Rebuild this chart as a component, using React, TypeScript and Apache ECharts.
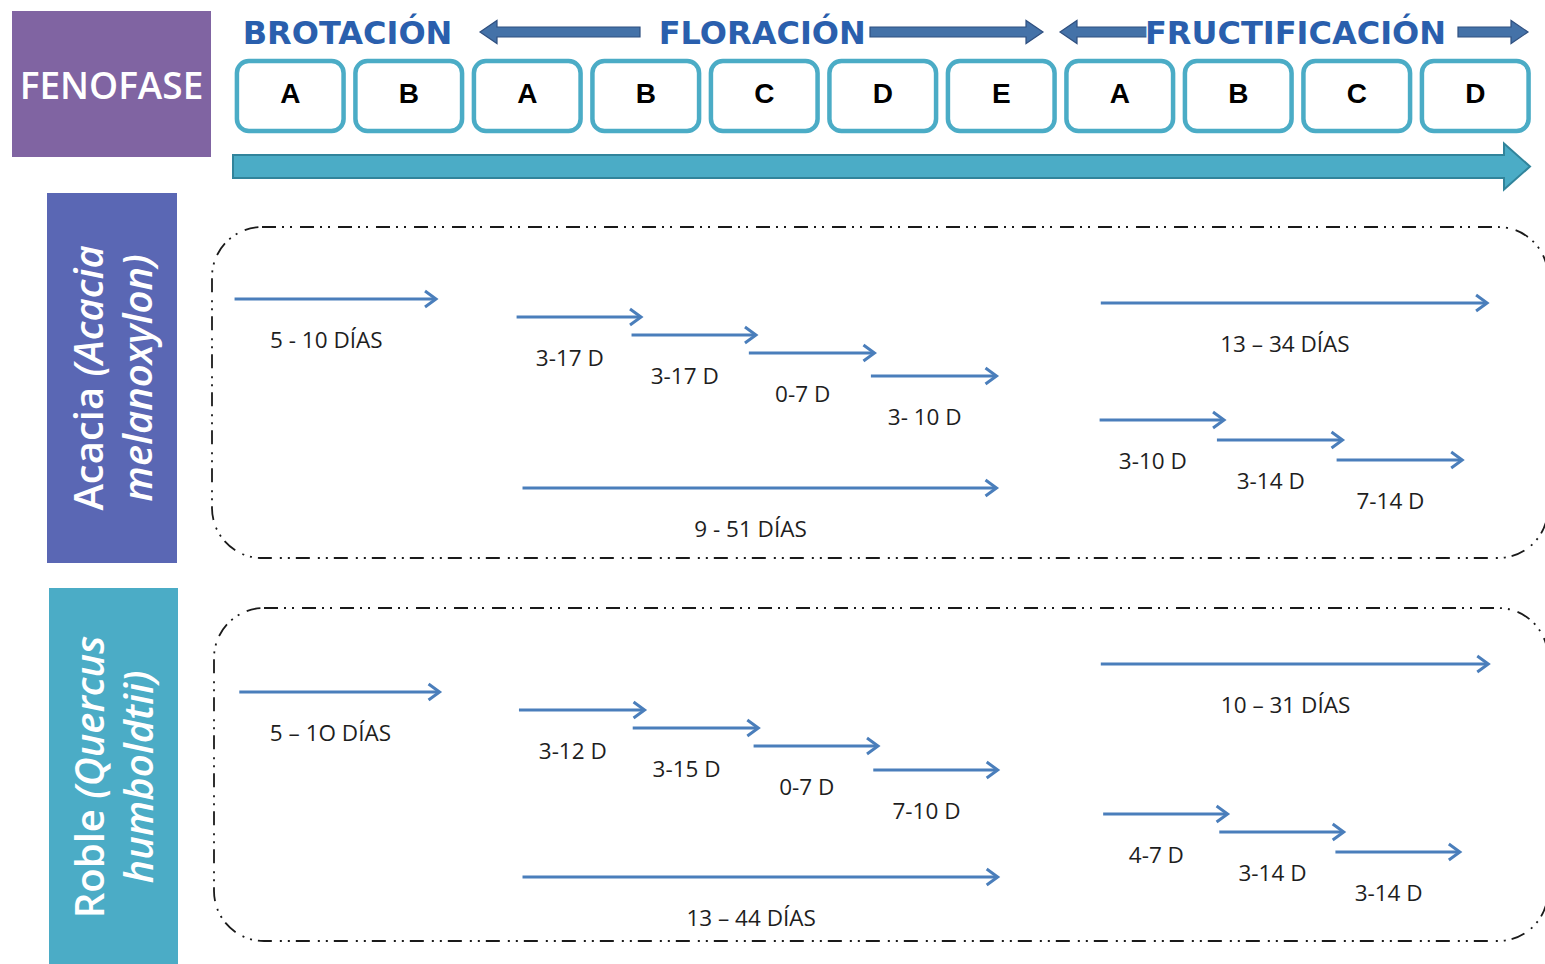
import React, { useEffect, useRef } from "react";
import * as echarts from "echarts";

// ---- data ----
const PHASE_LETTERS = ["A", "B", "A", "B", "C", "D", "E", "A", "B", "C", "D"];
const PHASE_GROUPS = ["BROTACIÓN", "FLORACIÓN", "FRUCTIFICACIÓN"];
const GROUP_START = [0, 2, 7];
const GROUP_END = [2, 7, 11];

const ACACIA_START = [0.03, 2.41, 3.38, 4.37, 5.4, 2.46, 7.34, 7.33, 8.32, 9.33];
const ACACIA_END = [1.73, 3.46, 4.43, 5.43, 6.46, 6.46, 10.6, 8.38, 9.38, 10.39];
const ACACIA_LEVEL = [299, 317, 335, 353, 376, 488, 303, 420, 440, 460];
const ACACIA_LABELS = ["5 - 10 DÍAS", "3-17 D", "3-17 D", "0-7 D", "3- 10 D", "9 - 51 DÍAS", "13 – 34 DÍAS", "3-10 D", "3-14 D", "7-14 D"];

const ROBLE_START = [0.07, 2.43, 3.39, 4.41, 5.42, 2.46, 7.34, 7.36, 8.34, 9.32];
const ROBLE_END = [1.76, 3.49, 4.45, 5.46, 6.47, 6.47, 10.61, 8.41, 9.39, 10.37];
const ROBLE_LEVEL = [692, 710, 728, 746, 770, 877, 664, 814, 832, 852];
const ROBLE_LABELS = ["5 – 1O DÍAS", "3-12 D", "3-15 D", "0-7 D", "7-10 D", "13 – 44 DÍAS", "10 – 31 DÍAS", "4-7 D", "3-14 D", "3-14 D"];

const SPECIES_MAIN = ["Acacia ", "Roble "];
const SPECIES_LATIN1 = ["(Acacia", "(Quercus"];
const SPECIES_LATIN2 = ["melanoxylon)", "humboldtii)"];

// ---- styles ----
const ARROW_BLUE = "#4A7EBB";
const TEAL = "#4BACC6";
const TEAL_DARK = "#31849B";
const LABEL_FONT = "'Open Sans', sans-serif";

function blockArrow(tail: number, tip: number, y: number, s: number, h: number, hl: number) {
  const d = tip > tail ? 1 : -1;
  const hb = tip - d * hl;
  return [
    [tail, y - s],
    [hb, y - s],
    [hb, y - h],
    [tip, y],
    [hb, y + h],
    [hb, y + s],
    [tail, y + s],
  ];
}

function arrowSeries(starts: number[], ends: number[], levels: number[], labels: string[]) {
  return {
    type: "custom",
    coordinateSystem: "cartesian2d",
    silent: true,
    z: 5,
    data: starts.map((s, i) => [s, levels[i], ends[i]]),
    renderItem: (params: any, api: any) => {
      const i = params.dataIndex;
      const a = api.coord([api.value(0), api.value(1)]);
      const b = api.coord([api.value(2), api.value(1)]);
      const y = a[1];
      return {
        type: "group",
        children: [
          {
            type: "line",
            shape: { x1: a[0], y1: y, x2: b[0] - 1, y2: y },
            style: { stroke: ARROW_BLUE, lineWidth: 3 },
          },
          {
            type: "polyline",
            shape: { points: [[b[0] - 11, y - 8], [b[0], y], [b[0] - 11, y + 8]] },
            style: { stroke: ARROW_BLUE, lineWidth: 3, fill: "none", lineJoin: "miter" },
          },
          {
            type: "text",
            x: (a[0] + b[0]) / 2 - 9,
            y: y + 40,
            style: {
              text: labels[i],
              fill: "#1e1e1e",
              fontSize: 22.5,
              fontFamily: LABEL_FONT,
              align: "center",
              verticalAlign: "middle",
            },
          },
        ],
      };
    },
  };
}

function sideLabel(idx: number, x: number, y: number) {
  return {
    type: "text",
    x,
    y,
    rotation: Math.PI / 2,
    style: {
      text: `{n|${SPECIES_MAIN[idx]}}{i|${SPECIES_LATIN1[idx]}}\n{i|${SPECIES_LATIN2[idx]}}`,
      align: "center",
      verticalAlign: "middle",
      fill: "#fff",
      rich: {
        n: { fontSize: 40, fontFamily: LABEL_FONT, fontWeight: 600, fill: "#fff", lineHeight: 49 },
        i: { fontSize: 40, fontFamily: LABEL_FONT, fontWeight: 600, fontStyle: "italic", fill: "#fff", lineHeight: 49 },
      },
    },
  };
}

const dash = [14, 6, 2, 6, 2, 8];

export default function App() {
  const ref = useRef<HTMLDivElement>(null);
  useEffect(() => {
    const chart = echarts.init(ref.current!, null, { renderer: "svg" });
    const option: any = {
      animation: false,
      backgroundColor: "#ffffff",
      grid: { left: 231, right: 10.5, top: 0, bottom: 0 },
      xAxis: { type: "value", min: 0, max: 11, show: false, axisLabel: { show: false } },
      yAxis: { type: "value", min: 0, max: 964, inverse: true, show: false, axisLabel: { show: false } },
      graphic: {
        elements: [
          // FENOFASE box
          { type: "rect", shape: { x: 12, y: 11, width: 199, height: 146 }, style: { fill: "#8064A2" }, z: 1 },
          {
            type: "text", x: 111.5, y: 84,
            style: { text: "FENOFASE", fill: "#fff", fontSize: 37, fontWeight: 600, fontFamily: LABEL_FONT, align: "center", verticalAlign: "middle" },
            z: 2,
          },
          // species boxes
          { type: "rect", shape: { x: 47, y: 193, width: 130, height: 370 }, style: { fill: "#5A67B4" }, z: 1 },
          { ...sideLabel(0, 112, 378), z: 2 },
          { type: "rect", shape: { x: 49, y: 588, width: 129, height: 380 }, style: { fill: TEAL }, z: 1 },
          { ...sideLabel(1, 113, 777), z: 2 },
          // dashed frames
          {
            type: "rect", shape: { x: 212, y: 227, width: 1336, height: 331, r: 50 },
            style: { fill: "none", stroke: "#1a1a1a", lineWidth: 1.8, lineDash: dash }, z: 1,
          },
          {
            type: "rect", shape: { x: 214, y: 608, width: 1334, height: 333, r: 50 },
            style: { fill: "none", stroke: "#1a1a1a", lineWidth: 1.8, lineDash: dash }, z: 1,
          },
          // big teal arrow
          {
            type: "polygon", shape: { points: blockArrow(233, 1530, 166.5, 11.5, 23, 26) },
            style: { fill: TEAL, stroke: TEAL_DARK, lineWidth: 2 }, z: 1,
          },
          // header arrows
          { type: "polygon", shape: { points: blockArrow(640, 480, 32, 5, 11.5, 17) }, style: { fill: "#4472A8", stroke: "#2F5080", lineWidth: 1.2 }, z: 1 },
          { type: "polygon", shape: { points: blockArrow(870, 1043, 32, 5, 11.5, 17) }, style: { fill: "#4472A8", stroke: "#2F5080", lineWidth: 1.2 }, z: 1 },
          { type: "polygon", shape: { points: blockArrow(1150, 1060, 32, 5, 11.5, 17) }, style: { fill: "#4472A8", stroke: "#2F5080", lineWidth: 1.2 }, z: 1 },
          { type: "polygon", shape: { points: blockArrow(1458, 1528, 32, 5, 11.5, 17) }, style: { fill: "#4472A8", stroke: "#2F5080", lineWidth: 1.2 }, z: 1 },
        ],
      },
      series: [
        // phase boxes
        {
          type: "custom",
          coordinateSystem: "cartesian2d",
          silent: true,
          z: 3,
          data: PHASE_LETTERS.map((_, i) => [i, 60]),
          renderItem: (params: any, api: any) => {
            const i = params.dataIndex;
            const a = api.coord([api.value(0) + 0.05, 61]);
            const b = api.coord([api.value(0) + 0.95, 131]);
            return {
              type: "group",
              children: [
                {
                  type: "rect",
                  shape: { x: a[0], y: a[1], width: b[0] - a[0], height: b[1] - a[1], r: 12 },
                  style: { fill: "#fff", stroke: TEAL, lineWidth: 4.5 },
                },
                {
                  type: "text",
                  x: (a[0] + b[0]) / 2,
                  y: 93,
                  style: {
                    text: PHASE_LETTERS[i], fill: "#000", fontSize: 28, fontWeight: "bold",
                    fontFamily: "'Liberation Sans', Arial, sans-serif", align: "center", verticalAlign: "middle",
                  },
                },
              ],
            };
          },
        },
        // phase group titles
        {
          type: "custom",
          coordinateSystem: "cartesian2d",
          silent: true,
          z: 4,
          data: PHASE_GROUPS.map((_, i) => [(GROUP_START[i] + GROUP_END[i]) / 2, 33]),
          renderItem: (params: any, api: any) => {
            const i = params.dataIndex;
            const p = api.coord([api.value(0), api.value(1)]);
            return {
              type: "text",
              x: p[0] - 2,
              y: p[1],
              style: {
                text: PHASE_GROUPS[i], fill: "#2A5FAD", fontSize: 32, fontWeight: "bold",
                fontFamily: "'DejaVu Sans', sans-serif", align: "center", verticalAlign: "middle",
                stroke: "#ffffff", lineWidth: 3,
              },
            };
          },
        },
        arrowSeries(ACACIA_START, ACACIA_END, ACACIA_LEVEL, ACACIA_LABELS),
        arrowSeries(ROBLE_START, ROBLE_END, ROBLE_LEVEL, ROBLE_LABELS),
      ],
    };
    chart.setOption(option);
    return () => chart.dispose();
  }, []);
  return (
    <div
      ref={ref}
      style={{ position: "absolute", left: 0, top: 0, width: 1545, height: 964, background: "#fff" }}
    />
  );
}
